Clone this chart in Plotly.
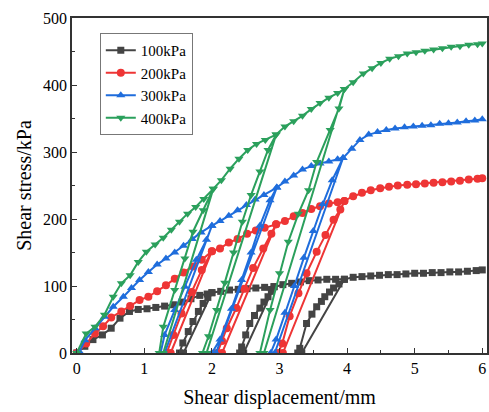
import plotly.graph_objects as go

# ---------------- data ----------------
series_names = ["100kPa", "200kPa", "300kPa", "400kPa"]

# 100 kPa
p100_env_x = [0, 0.12, 0.24, 0.38, 0.51, 0.64, 0.78, 0.91, 1.04, 1.17, 1.30, 1.43, 1.56, 1.69, 1.82, 1.93, 2.00,
              2.13, 2.26, 2.39, 2.52, 2.65, 2.78, 2.92, 3.05, 3.18, 3.31, 3.44, 3.57, 3.70, 3.83, 3.96,
              4.09, 4.22, 4.35, 4.48, 4.61, 4.74, 4.87, 5.00, 5.13, 5.26, 5.39, 5.52, 5.65, 5.78, 5.91, 6.00]
p100_env_y = [0, 10, 20, 27, 37, 52, 62, 65, 66, 68, 70, 72, 76, 81, 86, 88, 90,
              92, 94, 95, 96, 97, 98, 99, 102, 104, 106, 108, 109, 110, 110, 110,
              113, 114, 115, 116, 117, 117, 118, 119, 119, 120, 120, 121, 121, 122, 123, 124]
p100_tops = [2.00, 2.92, 3.96]
p100_unload_zero = [1.58, 2.47, 3.33]
p100_reload_x = [[1.52, 1.57, 1.65, 1.72, 1.80, 1.87, 1.94],
                 [2.41, 2.44, 2.50, 2.56, 2.63, 2.71, 2.77, 2.83, 2.88],
                 [3.27, 3.30, 3.40, 3.48, 3.55, 3.62, 3.67, 3.74, 3.80, 3.88]]
p100_reload_y = [[0, 15, 32, 47, 62, 74, 83],
                 [0, 9, 27, 44, 56, 67, 76, 84, 92],
                 [0, 7, 44, 58, 69, 77, 84, 91, 97, 103]]

# 200 kPa
p200_env_x = [0, 0.14, 0.27, 0.39, 0.51, 0.66, 0.79, 0.93, 1.06, 1.19, 1.32, 1.45, 1.58, 1.72, 1.85, 2.00,
              2.12, 2.25, 2.38, 2.52, 2.65, 2.78, 2.95, 3.08, 3.21, 3.34, 3.47, 3.60, 3.73, 3.86, 3.96,
              4.09, 4.22, 4.35, 4.49, 4.62, 4.75, 4.89, 5.02, 5.15, 5.28, 5.41, 5.54, 5.67, 5.80, 5.93, 6.00]
p200_env_y = [0, 14, 29, 40, 53, 62, 70, 79, 84, 92, 101, 111, 120, 129, 139, 152,
              156, 165, 170, 178, 183, 187, 192, 197, 204, 209, 215, 219, 223, 225, 227,
              234, 239, 243, 246, 248, 250, 251, 252, 253, 254, 255, 256, 257, 259, 260, 261]
p200_tops = [2.00, 2.95, 3.96]
p200_unload_zero = [1.39, 2.15, 3.05]
p200_reload_x = [[1.33, 1.43, 1.55, 1.70, 1.85],
                 [2.08, 2.15, 2.22, 2.36, 2.48, 2.61, 2.76, 2.88],
                 [2.98, 3.04, 3.15, 3.28, 3.40, 3.55, 3.68, 3.80, 3.90]]
p200_reload_y = [[0, 27, 59, 91, 124],
                 [0, 18, 37, 67, 96, 127, 156, 178],
                 [0, 14, 55, 89, 119, 151, 176, 199, 214]]

# 300 kPa
p300_env_x = [0, 0.04, 0.12, 0.27, 0.41, 0.54, 0.69, 0.81, 0.93, 1.06, 1.19, 1.32, 1.45, 1.58, 1.71, 1.84, 2.00,
              2.12, 2.25, 2.38, 2.51, 2.64, 2.77, 2.96, 3.08, 3.21, 3.34, 3.47, 3.60, 3.73, 3.86, 3.94,
              4.07, 4.19, 4.32, 4.45, 4.58, 4.71, 4.85, 4.98, 5.11, 5.24, 5.37, 5.50, 5.63, 5.76, 5.89, 6.00]
p300_env_y = [0, 2, 19, 37, 54, 69, 84, 97, 109, 121, 132, 141, 150, 160, 170, 180, 190,
              197, 205, 213, 221, 229, 236, 247, 256, 265, 274, 279, 283, 286, 289, 291,
              305, 318, 326, 330, 333, 335, 337, 338, 339, 340, 342, 343, 344, 346, 347, 349]
p300_tops = [2.00, 2.96, 3.94]
p300_unload_zero = [1.30, 2.06, 2.93]
p300_reload_x = [[1.24, 1.30, 1.45, 1.60, 1.77, 1.92],
                 [2.00, 2.12, 2.29, 2.44, 2.58, 2.71, 2.86],
                 [2.87, 2.95, 3.08, 3.22, 3.36, 3.50, 3.64, 3.78]]
p300_reload_y = [[0, 27, 64, 99, 139, 169],
                 [0, 20, 66, 109, 150, 190, 228],
                 [0, 20, 60, 100, 142, 182, 222, 258]]

# 400 kPa
p400_env_x = [0, 0.14, 0.27, 0.41, 0.54, 0.66, 0.79, 0.91, 1.03, 1.16, 1.28, 1.40, 1.52, 1.64, 1.76, 1.88, 2.02,
              2.14, 2.27, 2.40, 2.53, 2.66, 2.79, 2.95, 3.08, 3.21, 3.34, 3.47, 3.60, 3.73, 3.86, 3.96,
              4.09, 4.24, 4.37, 4.50, 4.63, 4.76, 4.89, 5.02, 5.15, 5.28, 5.41, 5.54, 5.67, 5.80, 5.93, 6.00]
p400_env_y = [0, 29, 39, 57, 84, 104, 116, 136, 151, 162, 172, 184, 196, 208, 218, 230, 245,
              258, 275, 290, 303, 312, 318, 326, 338, 346, 354, 364, 373, 381, 388, 394,
              404, 417, 425, 433, 439, 443, 447, 449, 451, 453, 455, 457, 458, 460, 461, 462]
p400_tops = [2.02, 2.95, 3.96]
p400_unload_zero = [1.28, 1.92, 2.77]
p400_reload_x = [[1.22, 1.28, 1.45, 1.60, 1.72, 1.87],
                 [1.86, 1.95, 2.07, 2.19, 2.32, 2.45, 2.58, 2.71, 2.83],
                 [2.71, 2.86, 3.00, 3.13, 3.28, 3.43, 3.55, 3.75, 3.88]]
p400_reload_y = [[0, 39, 94, 141, 181, 213],
                 [0, 25, 64, 105, 150, 196, 236, 271, 303],
                 [0, 64, 119, 166, 208, 243, 285, 333, 365]]

colors = ["#444444", "#ee3535", "#1f6ddc", "#2ba05c"]
symbols = ["square", "circle", "triangle-up", "triangle-down"]
marker_sizes = [7, 8, 8, 8]

series = [
    (p100_env_x, p100_env_y, p100_tops, p100_unload_zero, p100_reload_x, p100_reload_y),
    (p200_env_x, p200_env_y, p200_tops, p200_unload_zero, p200_reload_x, p200_reload_y),
    (p300_env_x, p300_env_y, p300_tops, p300_unload_zero, p300_reload_x, p300_reload_y),
    (p400_env_x, p400_env_y, p400_tops, p400_unload_zero, p400_reload_x, p400_reload_y),
]


def build_path(env_x, env_y, tops, zeros, rx, ry):
    """Envelope -> unload (straight) -> reload (marked) -> back on envelope."""
    xs, ys = [], []
    k = 0
    for xv, yv in zip(env_x, env_y):
        xs.append(xv)
        ys.append(yv)
        if k < len(tops) and abs(xv - tops[k]) < 1e-9:
            xs.append(zeros[k]); ys.append(0)
            xs.extend(rx[k]); ys.extend(ry[k])
            xs.append(xv); ys.append(yv)
            k += 1
    return xs, ys


fig = go.Figure()
for name, col, sym, msz, s in zip(series_names, colors, symbols, marker_sizes, series):
    px_, py_ = build_path(*s)
    fig.add_trace(go.Scatter(
        x=px_, y=py_, name=name, mode="lines+markers",
        line=dict(color=col, width=2),
        marker=dict(symbol=sym, size=msz, color=col),
    ))

font_family = "Liberation Serif, Times New Roman, DejaVu Serif, serif"
fig.update_layout(
    width=489, height=412,
    margin=dict(l=72, r=2, t=18, b=59, autoexpand=False),
    paper_bgcolor="white", plot_bgcolor="white",
    font=dict(family=font_family, size=16, color="black"),
    showlegend=True,
    legend=dict(x=0.067, y=0.955, xanchor="left", yanchor="top",
                bordercolor="#777777", borderwidth=1, bgcolor="white",
                font=dict(family=font_family, size=15, color="black"),
                tracegroupgap=0, itemwidth=30),
    xaxis=dict(range=[-0.07, 6.07], tickmode="linear", tick0=0, dtick=1,
               ticks="inside", ticklen=5, tickwidth=1, tickcolor="#333333",
               minor=dict(dtick=0.5, ticks="inside", ticklen=3, tickcolor="#333333"),
               showline=True, linecolor="#333333", linewidth=1.5, mirror=True,
               showgrid=False, zeroline=False, automargin=False,
               tickfont=dict(family=font_family, size=16),
               title=dict(text="Shear displacement/mm", font=dict(family=font_family, size=20),
                          standoff=14)),
    yaxis=dict(range=[0, 500], tickmode="linear", tick0=0, dtick=100,
               ticks="inside", ticklen=5, tickwidth=1, tickcolor="#333333",
               minor=dict(dtick=50, ticks="inside", ticklen=3, tickcolor="#333333"),
               showline=True, linecolor="#333333", linewidth=1.5, mirror=True,
               showgrid=False, zeroline=False, automargin=False,
               tickfont=dict(family=font_family, size=16),
               title=dict(text="Shear stress/kPa", font=dict(family=font_family, size=20),
                          standoff=6)),
)

fig.write_html("out.html", config={"displayModeBar": False})

# remove the browser's default page margin so the figure sits at the window's corner
with open("out.html", "r", encoding="utf-8") as fh:
    html = fh.read()
html = html.replace("<head>", "<head><style>html,body{margin:0;padding:0;overflow:hidden;}</style>", 1)
with open("out.html", "w", encoding="utf-8") as fh:
    fh.write(html)
